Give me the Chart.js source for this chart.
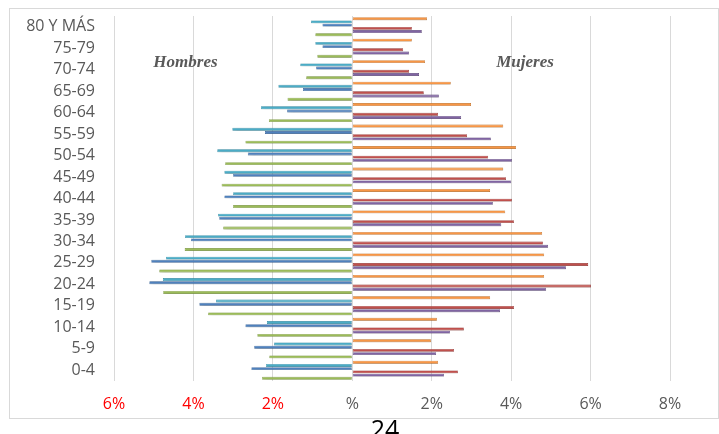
<!DOCTYPE html>
<html>
<head>
<meta charset="utf-8">
<script src="https://cdn.jsdelivr.net/npm/chart.js@4/dist/chart.umd.min.js"></script>
<style>
  html, body { margin: 0; padding: 0; background: #ffffff; }
  #wrap { position: relative; width: 719px; height: 434px; overflow: hidden; }
  #pyramid { position: absolute; left: 0; top: 0; }
  #pageNum {
    position: absolute; left: 335px; width: 100px; top: 416px;
    text-align: center; font-family: "Open Sans", sans-serif; font-size: 25px;
    line-height: 25px; color: #000000;
  }
</style>
</head>
<body>
<div id="wrap">
  <canvas id="pyramid" width="719" height="434"></canvas>
  <div id="pageNum">24</div>
</div>
<script>
// Age groups, youngest first (axis is reversed so 0-4 sits at the bottom)
const ageGroups = ["0-4", "5-9", "10-14", "15-19", "20-24", "25-29", "30-34", "35-39",
  "40-44", "45-49", "50-54", "55-59", "60-64", "65-69", "70-74", "75-79", "80 Y MÁS"];

// Share of total population (%), men
const hombresSerieA = [2.17, 1.97, 2.15, 3.43, 4.77, 4.69, 4.21, 3.38, 3.00, 3.22, 3.40, 3.02, 2.30, 1.86, 1.31, 0.93, 1.04];
const hombresSerieB = [2.54, 2.47, 2.69, 3.85, 5.11, 5.06, 4.06, 3.35, 3.22, 3.00, 2.63, 2.20, 1.64, 1.24, 0.91, 0.75, 0.75];
const hombresSerieC = [2.27, 2.09, 2.39, 3.63, 4.76, 4.86, 4.22, 3.25, 3.00, 3.29, 3.20, 2.69, 2.10, 1.63, 1.16, 0.88, 0.93];

// Share of total population (%), women
const mujeresSerieA = [2.16, 1.98, 2.13, 3.47, 4.83, 4.83, 4.78, 3.85, 3.47, 3.80, 4.12, 3.80, 2.99, 2.48, 1.83, 1.50, 1.88];
const mujeresSerieB = [2.66, 2.56, 2.81, 4.07, 6.01, 5.94, 4.80, 4.07, 4.02, 3.87, 3.42, 2.89, 2.16, 1.80, 1.43, 1.28, 1.50];
const mujeresSerieC = [2.31, 2.11, 2.46, 3.72, 4.88, 5.38, 4.93, 3.75, 3.54, 4.00, 4.02, 3.49, 2.74, 2.18, 1.68, 1.43, 1.75];

// Axis range and tick step (%)
const axisMin = -6;
const axisMax = 8;
const axisStep = 2;

const sideLabels = ["Hombres", "Mujeres"];

const left = arr => arr.map(v => -v);

function bar(label, data, color, edge) {
  return {
    label, data,
    backgroundColor: color,
    borderColor: edge,
    borderWidth: 0.6,
    borderSkipped: false,
    categoryPercentage: 0.9,
    barPercentage: 0.9
  };
}

// Frame around the chart, side captions and soft bar shadows
const decorations = {
  id: 'decorations',
  beforeDraw(chart) {
    const ctx = chart.ctx;
    ctx.save();
    ctx.fillStyle = '#ffffff';
    ctx.fillRect(0, 0, chart.width, chart.height);
    ctx.strokeStyle = '#d9d9d9';
    ctx.lineWidth = 1;
    ctx.strokeRect(9.5, 8.5, 709, 410);
    ctx.restore();
  },
  beforeDatasetsDraw(chart) {
    const ctx = chart.ctx;
    ctx.save();
    ctx.shadowColor = 'rgba(0,0,0,0.38)';
    ctx.shadowBlur = 4;
    ctx.shadowOffsetX = 2;
    ctx.shadowOffsetY = 3;
  },
  afterDatasetsDraw(chart) {
    const ctx = chart.ctx;
    ctx.restore();
    const x = chart.scales.x, y = chart.scales.y;
    const yText = (y.getPixelForValue(15) + y.getPixelForValue(14)) / 2 + 4;
    ctx.save();
    ctx.font = 'italic bold 17px "Liberation Serif", serif';
    ctx.fillStyle = '#595959';
    ctx.textAlign = 'center';
    ctx.textBaseline = 'middle';
    ctx.fillText(sideLabels[0], x.getPixelForValue(-4.2), yText);
    ctx.fillText(sideLabels[1], x.getPixelForValue(4.35), yText);
    ctx.restore();
  }
};

new Chart(document.getElementById('pyramid'), {
  type: 'bar',
  data: {
    labels: ageGroups,
    datasets: [
      bar('Mujeres A', mujeresSerieA, '#F79646', '#c46f22'),
      bar('Hombres A', left(hombresSerieA), '#4BACC6', '#2f8aa3'),
      bar('Hombres B', left(hombresSerieB), '#4F81BD', '#335f94'),
      bar('Mujeres B', mujeresSerieB, '#C0504D', '#963431'),
      bar('Mujeres C', mujeresSerieC, '#8064A2', '#5d467c'),
      bar('Hombres C', left(hombresSerieC), '#9BBB59', '#76933a')
    ]
  },
  options: {
    indexAxis: 'y',
    responsive: false,
    animation: false,
    events: [],
    layout: { padding: { top: 16, right: 49, left: 0, bottom: 0 } },
    plugins: { legend: { display: false }, tooltip: { enabled: false } },
    scales: {
      x: {
        min: axisMin, max: axisMax,
        afterFit(s) { s.height = 53; s.paddingLeft = 0; s.paddingRight = 0; },
        ticks: {
          stepSize: axisStep,
          padding: 14,
          font: { family: '"Open Sans", sans-serif', size: 16 },
          color: c => c.tick.value < 0 ? '#ff0000' : '#595959',
          callback: v => v === 0 ? '%' : Math.abs(v) + '%'
        },
        grid: { color: '#d9d9d9', lineWidth: 1, drawTicks: false },
        border: { display: false }
      },
      y: {
        reverse: true,
        afterFit(s) { s.width = 114; s.paddingTop = 0; s.paddingBottom = 0; },
        ticks: {
          autoSkip: false,
          padding: 19,
          font: { family: '"Open Sans", sans-serif', size: 16 },
          color: '#595959'
        },
        grid: { display: false, drawTicks: false },
        border: { display: false }
      }
    }
  },
  plugins: [decorations]
});
</script>
</body>
</html>
